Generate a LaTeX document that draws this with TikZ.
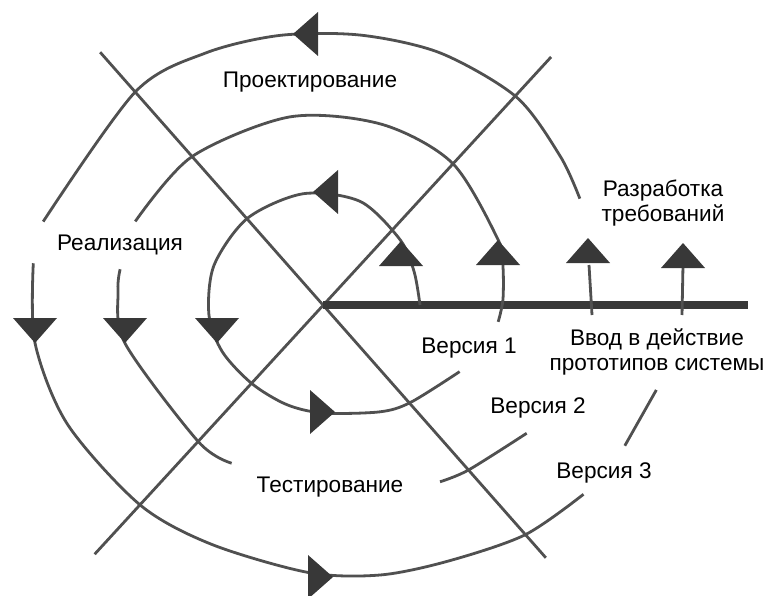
\documentclass[tikz,border=0pt]{standalone}
\usepackage{fontspec}
\setmainfont{Liberation Sans}
\usetikzlibrary{positioning}
\definecolor{linegray}{HTML}{505050}
\definecolor{headgray}{HTML}{383838}
% filled arrow head: tip at #1, pointing to angle #2
\newcommand\headat[2]{\fill[headgray, shift={#1}, rotate=#2] (0,0) -- (-25,22) -- (-25,-22) -- cycle;}

\begin{document}
\begin{tikzpicture}[x=0.5pt, y=0.5pt,
  coil/.style={draw=linegray, line width=1.4pt},
  diag/.style={draw=linegray, line width=1.4pt},
  spine/.style={draw=headgray, line width=4.2pt},
  lbl/.style={font=\fontsize{11.3}{12.8}\selectfont, align=center, inner sep=0pt}
]
\useasboundingbox (0,0) rectangle (769,595);
\coordinate (o) at (323,290);

\begin{scope}[shift={(o)}]
% crossing lines and the release axis
\draw[diag] (131.4:337) -- (311.4:337);
\draw[diag] (47.4:337) -- (227.5:338);
\draw[spine] (0,0) -- (425,0);
% version 1
\draw[coil] plot[smooth] coordinates {(0:97) (20:97) (40:101) (70:110) (100:113) (131:115) (160:116) (185:114.5) (205:111) (228:106) (250:106) (270:108) (298:121) (312:131) (334:152)};
% version 2
\draw[coil] plot[smooth] coordinates {(-5.5:176) (1.6:180) (12:184) (20:187) (47.5:192) (72:190) (100:191) (131.5:198) (156:205.5)};
\draw[coil] plot[smooth] coordinates {(170:206) (176:205.5) (191:201.6) (227.6:185) (240:182.7)};
\draw[coil] plot[smooth] coordinates {(303.5:212) (311.4:220) (327.8:240.7)};
% version 3
\draw[coil] plot[smooth] coordinates {(22.5:278) (32:280) (47:284) (65:278) (82:272.5) (99:273) (115:278) (131.4:284) (163.4:292)};
\draw[coil] plot[smooth] coordinates {(171.8:292.7) (187.5:290.5) (205:282) (227.5:271) (245:264) (267:268) (282:276) (296:285) (311.3:306) (324:322)};
\draw[coil] plot[smooth] coordinates {(335:333) (345.7:344)};
\end{scope}

% short shafts on the axis
\draw[diag] (592,280) -- (589,330);
\draw[diag] (682,280) -- (683,330);

% arrow heads
\headat{(401,354)}{90}
\headat{(498,355)}{90}
\headat{(588,357)}{90}
\headat{(683,352)}{90}
\headat{(293,561)}{180}
\headat{(313,403)}{180}
\headat{(35,252)}{-90}
\headat{(125,252)}{-90}
\headat{(217,252)}{-90}
\headat{(335,183)}{0}
\headat{(333,18)}{0}

% labels
\node[lbl] (design) at (310,513) {Проектирование};
\node[lbl] (impl) at (120,350) {Реализация};
\node[lbl] (req) at (663,392) {Разработка\\требований};
\node[lbl] (ver1) at (469,247) {Версия 1};
\node[lbl] (deploy) at (657,243) {Ввод в действие\\прототипов системы};
\node[lbl] (ver2) at (538,187) {Версия 2};
\node[lbl] (ver3) at (604,122) {Версия 3};
\node[lbl] (test) at (330,108) {Тестирование};
\end{tikzpicture}
\end{document}
